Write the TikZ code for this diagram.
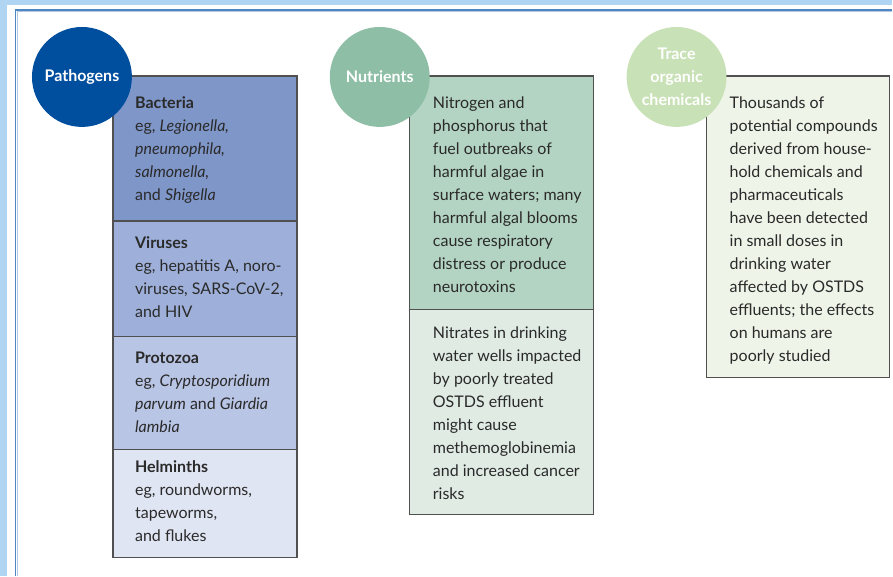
\documentclass[tikz,border=0pt]{standalone}
\usepackage{fontspec}
\setmainfont{Lato}
\definecolor{pageblue}{HTML}{AFD5F3}
\definecolor{frameblue}{HTML}{4F86C2}
\definecolor{boxline}{HTML}{505050}
\definecolor{txt}{HTML}{2A2A2A}
\definecolor{pathcirc}{HTML}{004F9F}
\definecolor{bacfill}{HTML}{7F96C9}
\definecolor{virfill}{HTML}{9EB0DA}
\definecolor{profill}{HTML}{B9C5E5}
\definecolor{helfill}{HTML}{E0E5F3}
\definecolor{nutcirc}{HTML}{8EBFA6}
\definecolor{nuttop}{HTML}{B4D4C3}
\definecolor{nutbot}{HTML}{E0EBE4}
\definecolor{tracecirc}{HTML}{C9E1B6}
\definecolor{tracefill}{HTML}{EEF4E8}
\begin{document}
\begin{tikzpicture}[x=1pt,y=-1pt,
	box/.style={draw=boxline, line width=1.4pt},
	topic/.style={circle, minimum size=100pt, inner sep=0pt, text=white,
		font=\fontsize{16}{23}\selectfont\bfseries, align=center},
	entry/.style={anchor=north west, inner sep=0pt, text=txt,
		font=\fontsize{16}{23}\selectfont, align=left}]
	% page and frame
	\fill[pageblue] (0,0) rectangle (893,576);
	\fill[white] (7,4.5) rectangle (893,576);
	\draw[frameblue!45, line width=1pt] (17.5,576) -- (17.5,12) -- (893,12);
	\draw[frameblue, line width=1.2pt] (15.5,576) -- (15.5,10) -- (893,10);
	
	% box corners
	\coordinate (P1) at (113,76);
	\coordinate (P2) at (297,558);
	\coordinate (N1) at (410,76);
	\coordinate (N2) at (594,515);
	\coordinate (T1) at (707,76);
	\coordinate (T2) at (890,378);
	
	% pathogens column
	\fill[bacfill] (113,76) rectangle (297,221);
	\fill[virfill] (113,221) rectangle (297,337);
	\fill[profill] (113,337) rectangle (297,450);
	\fill[helfill] (113,450) rectangle (297,558);
	\draw[box] (113,221) -- (297,221);
	\draw[box] (113,337) -- (297,337);
	\draw[box] (113,450) -- (297,450);
	\draw[box] (P1) rectangle (P2);
	
	% nutrients column
	\fill[nuttop] (410,76) rectangle (594,310);
	\fill[nutbot] (410,310) rectangle (594,515);
	\draw[box] (410,310) -- (594,310);
	\draw[box] (N1) rectangle (N2);
	
	% trace organic chemicals column
	\draw[box, fill=tracefill] (T1) rectangle (T2);
	
	% circles
	\node[topic, fill=pathcirc] (pathogens) at (82,77) {Pathogens};
	\node[topic, fill=nutcirc] (nutrients) at (380,77) {Nutrients};
	\node[topic, fill=tracecirc] (trace) at (677,77) {Trace\\organic\\chemicals};
	
	% texts
	\node[entry] (bacteria) at (135,97) {\textbf{Bacteria}\\eg, \textit{Legionella,}\\\textit{pneumophila,}\\\textit{salmonella,}\\and \textit{Shigella}};
	\node[entry] (viruses) at (135,237) {\textbf{Viruses}\\eg, hepatitis A, noro-\\viruses, SARS-CoV-2,\\and HIV};
	\node[entry] (protozoa) at (135,352) {\textbf{Protozoa}\\eg, \textit{Cryptosporidium}\\\textit{parvum} and \textit{Giardia}\\\textit{lambia}};
	\node[entry] (helminths) at (135,461) {\textbf{Helminths}\\eg, roundworms,\\tapeworms,\\and flukes};
	\node[entry] (algae) at (433,97) {Nitrogen and\\phosphorus that\\fuel outbreaks of\\harmful algae in\\surface waters; many\\harmful algal blooms\\cause respiratory\\distress or produce\\neurotoxins};
	\node[entry] (nitrates) at (433,327) {Nitrates in drinking\\water wells impacted\\by poorly treated\\OSTDS effluent\\might cause\\methemoglobinemia\\and increased cancer\\risks};
	\node[entry] (compounds) at (730,97) {Thousands of\\potential compounds\\derived from house-\\hold chemicals and\\pharmaceuticals\\have been detected\\in small doses in\\drinking water\\affected by OSTDS\\effluents; the effects\\on humans are\\poorly studied};
\end{tikzpicture}
\end{document}
